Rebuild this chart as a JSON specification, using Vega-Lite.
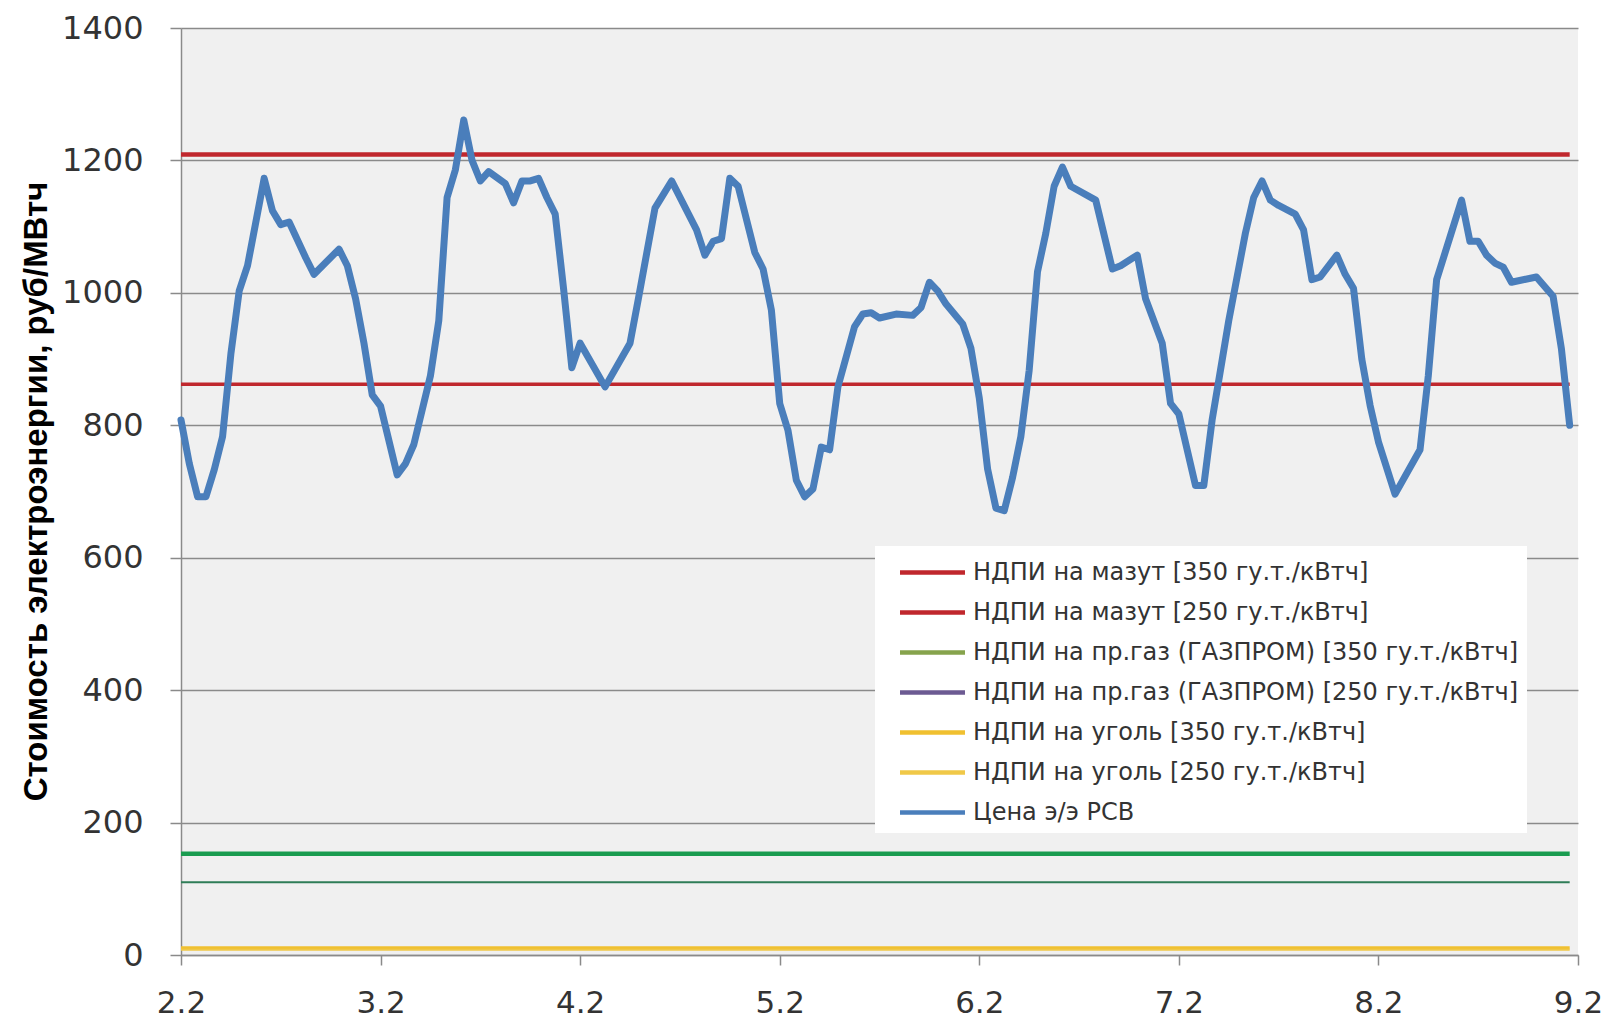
{
  "$schema": "https://vega.github.io/schema/vega-lite/v6.json",
  "width": 1397,
  "height": 927,
  "autosize": {"type": "none"},
  "padding": {"left": 181, "top": 28, "right": 26, "bottom": 65},
  "background": "#ffffff",
  "config": {
    "view": {"fill": "#f0f0f0", "stroke": null},
    "axis": {"labelFont": "DejaVu Sans", "labelColor": "#333333", "domainColor": "#8a8a8a", "tickColor": "#8a8a8a", "gridColor": "#8a8a8a"}
  },
  "datasets": {
    "levels": [
      {"series": "НДПИ на мазут [350 гу.т./кВтч]", "value": 1209},
      {"series": "НДПИ на мазут [250 гу.т./кВтч]", "value": 862},
      {"series": "НДПИ на пр.газ (ГАЗПРОМ) [350 гу.т./кВтч]", "value": 153},
      {"series": "НДПИ на пр.газ (ГАЗПРОМ) [250 гу.т./кВтч]", "value": 110},
      {"series": "НДПИ на уголь [350 гу.т./кВтч]", "value": 11},
      {"series": "НДПИ на уголь [250 гу.т./кВтч]", "value": 8}
    ],
    "price": [
      {"hour": 0, "price": 808, "series": "Цена э/э РСВ"},
      {"hour": 1, "price": 742, "series": "Цена э/э РСВ"},
      {"hour": 2, "price": 692, "series": "Цена э/э РСВ"},
      {"hour": 3, "price": 692, "series": "Цена э/э РСВ"},
      {"hour": 4, "price": 733, "series": "Цена э/э РСВ"},
      {"hour": 5, "price": 783, "series": "Цена э/э РСВ"},
      {"hour": 6, "price": 908, "series": "Цена э/э РСВ"},
      {"hour": 7, "price": 1003, "series": "Цена э/э РСВ"},
      {"hour": 8, "price": 1041, "series": "Цена э/э РСВ"},
      {"hour": 10, "price": 1173, "series": "Цена э/э РСВ"},
      {"hour": 11, "price": 1124, "series": "Цена э/э РСВ"},
      {"hour": 12, "price": 1103, "series": "Цена э/э РСВ"},
      {"hour": 13, "price": 1107, "series": "Цена э/э РСВ"},
      {"hour": 15, "price": 1053, "series": "Цена э/э РСВ"},
      {"hour": 16, "price": 1028, "series": "Цена э/э РСВ"},
      {"hour": 19, "price": 1066, "series": "Цена э/э РСВ"},
      {"hour": 20, "price": 1041, "series": "Цена э/э РСВ"},
      {"hour": 21, "price": 991, "series": "Цена э/э РСВ"},
      {"hour": 22, "price": 924, "series": "Цена э/э РСВ"},
      {"hour": 23, "price": 846, "series": "Цена э/э РСВ"},
      {"hour": 24, "price": 829, "series": "Цена э/э РСВ"},
      {"hour": 26, "price": 725, "series": "Цена э/э РСВ"},
      {"hour": 27, "price": 742, "series": "Цена э/э РСВ"},
      {"hour": 28, "price": 771, "series": "Цена э/э РСВ"},
      {"hour": 30, "price": 875, "series": "Цена э/э РСВ"},
      {"hour": 31, "price": 958, "series": "Цена э/э РСВ"},
      {"hour": 32, "price": 1144, "series": "Цена э/э РСВ"},
      {"hour": 33, "price": 1186, "series": "Цена э/э РСВ"},
      {"hour": 34, "price": 1261, "series": "Цена э/э РСВ"},
      {"hour": 35, "price": 1200, "series": "Цена э/э РСВ"},
      {"hour": 36, "price": 1169, "series": "Цена э/э РСВ"},
      {"hour": 37, "price": 1183, "series": "Цена э/э РСВ"},
      {"hour": 39, "price": 1165, "series": "Цена э/э РСВ"},
      {"hour": 40, "price": 1136, "series": "Цена э/э РСВ"},
      {"hour": 41, "price": 1169, "series": "Цена э/э РСВ"},
      {"hour": 42, "price": 1169, "series": "Цена э/э РСВ"},
      {"hour": 43, "price": 1173, "series": "Цена э/э РСВ"},
      {"hour": 44, "price": 1144, "series": "Цена э/э РСВ"},
      {"hour": 45, "price": 1119, "series": "Цена э/э РСВ"},
      {"hour": 46, "price": 1007, "series": "Цена э/э РСВ"},
      {"hour": 47, "price": 887, "series": "Цена э/э РСВ"},
      {"hour": 48, "price": 924, "series": "Цена э/э РСВ"},
      {"hour": 51, "price": 858, "series": "Цена э/э РСВ"},
      {"hour": 54, "price": 924, "series": "Цена э/э РСВ"},
      {"hour": 55, "price": 991, "series": "Цена э/э РСВ"},
      {"hour": 57, "price": 1128, "series": "Цена э/э РСВ"},
      {"hour": 59, "price": 1169, "series": "Цена э/э РСВ"},
      {"hour": 62, "price": 1095, "series": "Цена э/э РСВ"},
      {"hour": 63, "price": 1057, "series": "Цена э/э РСВ"},
      {"hour": 64, "price": 1078, "series": "Цена э/э РСВ"},
      {"hour": 65, "price": 1082, "series": "Цена э/э РСВ"},
      {"hour": 66, "price": 1173, "series": "Цена э/э РСВ"},
      {"hour": 67, "price": 1161, "series": "Цена э/э РСВ"},
      {"hour": 69, "price": 1061, "series": "Цена э/э РСВ"},
      {"hour": 70, "price": 1036, "series": "Цена э/э РСВ"},
      {"hour": 71, "price": 974, "series": "Цена э/э РСВ"},
      {"hour": 72, "price": 833, "series": "Цена э/э РСВ"},
      {"hour": 73, "price": 792, "series": "Цена э/э РСВ"},
      {"hour": 74, "price": 717, "series": "Цена э/э РСВ"},
      {"hour": 75, "price": 692, "series": "Цена э/э РСВ"},
      {"hour": 76, "price": 704, "series": "Цена э/э РСВ"},
      {"hour": 77, "price": 767, "series": "Цена э/э РСВ"},
      {"hour": 78, "price": 763, "series": "Цена э/э РСВ"},
      {"hour": 79, "price": 858, "series": "Цена э/э РСВ"},
      {"hour": 81, "price": 949, "series": "Цена э/э РСВ"},
      {"hour": 82, "price": 968, "series": "Цена э/э РСВ"},
      {"hour": 83, "price": 970, "series": "Цена э/э РСВ"},
      {"hour": 84, "price": 962, "series": "Цена э/э РСВ"},
      {"hour": 86, "price": 968, "series": "Цена э/э РСВ"},
      {"hour": 88, "price": 966, "series": "Цена э/э РСВ"},
      {"hour": 89, "price": 978, "series": "Цена э/э РСВ"},
      {"hour": 90, "price": 1016, "series": "Цена э/э РСВ"},
      {"hour": 91, "price": 1003, "series": "Цена э/э РСВ"},
      {"hour": 92, "price": 983, "series": "Цена э/э РСВ"},
      {"hour": 94, "price": 953, "series": "Цена э/э РСВ"},
      {"hour": 95, "price": 916, "series": "Цена э/э РСВ"},
      {"hour": 96, "price": 841, "series": "Цена э/э РСВ"},
      {"hour": 97, "price": 734, "series": "Цена э/э РСВ"},
      {"hour": 98, "price": 675, "series": "Цена э/э РСВ"},
      {"hour": 99, "price": 671, "series": "Цена э/э РСВ"},
      {"hour": 100, "price": 721, "series": "Цена э/э РСВ"},
      {"hour": 101, "price": 783, "series": "Цена э/э РСВ"},
      {"hour": 102, "price": 883, "series": "Цена э/э РСВ"},
      {"hour": 103, "price": 1032, "series": "Цена э/э РСВ"},
      {"hour": 104, "price": 1090, "series": "Цена э/э РСВ"},
      {"hour": 105, "price": 1161, "series": "Цена э/э РСВ"},
      {"hour": 106, "price": 1190, "series": "Цена э/э РСВ"},
      {"hour": 107, "price": 1161, "series": "Цена э/э РСВ"},
      {"hour": 110, "price": 1140, "series": "Цена э/э РСВ"},
      {"hour": 112, "price": 1036, "series": "Цена э/э РСВ"},
      {"hour": 113, "price": 1041, "series": "Цена э/э РСВ"},
      {"hour": 115, "price": 1057, "series": "Цена э/э РСВ"},
      {"hour": 116, "price": 991, "series": "Цена э/э РСВ"},
      {"hour": 118, "price": 924, "series": "Цена э/э РСВ"},
      {"hour": 119, "price": 833, "series": "Цена э/э РСВ"},
      {"hour": 120, "price": 817, "series": "Цена э/э РСВ"},
      {"hour": 122, "price": 709, "series": "Цена э/э РСВ"},
      {"hour": 123, "price": 709, "series": "Цена э/э РСВ"},
      {"hour": 124, "price": 808, "series": "Цена э/э РСВ"},
      {"hour": 125, "price": 883, "series": "Цена э/э РСВ"},
      {"hour": 126, "price": 958, "series": "Цена э/э РСВ"},
      {"hour": 128, "price": 1090, "series": "Цена э/э РСВ"},
      {"hour": 129, "price": 1144, "series": "Цена э/э РСВ"},
      {"hour": 130, "price": 1169, "series": "Цена э/э РСВ"},
      {"hour": 131, "price": 1140, "series": "Цена э/э РСВ"},
      {"hour": 132, "price": 1132, "series": "Цена э/э РСВ"},
      {"hour": 134, "price": 1119, "series": "Цена э/э РСВ"},
      {"hour": 135, "price": 1095, "series": "Цена э/э РСВ"},
      {"hour": 136, "price": 1020, "series": "Цена э/э РСВ"},
      {"hour": 137, "price": 1024, "series": "Цена э/э РСВ"},
      {"hour": 139, "price": 1057, "series": "Цена э/э РСВ"},
      {"hour": 140, "price": 1028, "series": "Цена э/э РСВ"},
      {"hour": 141, "price": 1007, "series": "Цена э/э РСВ"},
      {"hour": 142, "price": 900, "series": "Цена э/э РСВ"},
      {"hour": 143, "price": 830, "series": "Цена э/э РСВ"},
      {"hour": 144, "price": 775, "series": "Цена э/э РСВ"},
      {"hour": 146, "price": 696, "series": "Цена э/э РСВ"},
      {"hour": 149, "price": 763, "series": "Цена э/э РСВ"},
      {"hour": 150, "price": 875, "series": "Цена э/э РСВ"},
      {"hour": 151, "price": 1020, "series": "Цена э/э РСВ"},
      {"hour": 154, "price": 1140, "series": "Цена э/э РСВ"},
      {"hour": 155, "price": 1078, "series": "Цена э/э РСВ"},
      {"hour": 156, "price": 1078, "series": "Цена э/э РСВ"},
      {"hour": 157, "price": 1057, "series": "Цена э/э РСВ"},
      {"hour": 158, "price": 1045, "series": "Цена э/э РСВ"},
      {"hour": 159, "price": 1039, "series": "Цена э/э РСВ"},
      {"hour": 160, "price": 1016, "series": "Цена э/э РСВ"},
      {"hour": 163, "price": 1024, "series": "Цена э/э РСВ"},
      {"hour": 165, "price": 995, "series": "Цена э/э РСВ"},
      {"hour": 166, "price": 916, "series": "Цена э/э РСВ"},
      {"hour": 167, "price": 800, "series": "Цена э/э РСВ"}
    ]
  },
  "layer": [
    {
      "data": {"name": "levels"},
      "transform": [{"filter": "indexof(datum.series, 'ГАЗПРОМ') < 0"}],
      "mark": {"type": "rule"},
      "encoding": {
        "y": {
          "field": "value",
          "type": "quantitative",
          "scale": {"domain": [0, 1400], "nice": false},
          "axis": {
            "title": "Стоимость электроэнергии, руб/МВтч",
            "titleFont": "Liberation Sans",
            "titleFontWeight": "bold",
            "titleFontSize": 33,
            "titleColor": "#000000",
            "titleAngle": -90,
            "titleX": -145,
            "titleY": 463,
            "titleAlign": "center",
            "titleBaseline": "middle",
            "values": [0, 200, 400, 600, 800, 1000, 1200, 1400],
            "format": "d",
            "labelFontSize": 32,
            "labelPadding": 27,
            "tickSize": 11,
            "tickWidth": 1.5,
            "domainWidth": 1.5,
            "gridWidth": 1.5,
            "grid": true
          }
        },
        "x": {
          "datum": 0,
          "type": "quantitative",
          "scale": {"domain": [0, 168], "nice": false},
          "axis": {
            "title": null,
            "orient": "bottom",
            "values": [0, 24, 48, 72, 96, 120, 144, 168],
            "labelExpr": "format(datum.value / 24 + 2, 'd') + '.2'",
            "labelFontSize": 31,
            "labelPadding": 23,
            "labelFlush": false,
            "labelOverlap": false,
            "tickSize": 10,
            "tickWidth": 1.5,
            "domainWidth": 1.5,
            "grid": false
          }
        },
        "x2": {"datum": 167},
        "color": {
          "field": "series",
          "type": "nominal",
          "scale": {
            "domain": [
              "НДПИ на мазут [350 гу.т./кВтч]",
              "НДПИ на мазут [250 гу.т./кВтч]",
              "НДПИ на пр.газ (ГАЗПРОМ) [350 гу.т./кВтч]",
              "НДПИ на пр.газ (ГАЗПРОМ) [250 гу.т./кВтч]",
              "НДПИ на уголь [350 гу.т./кВтч]",
              "НДПИ на уголь [250 гу.т./кВтч]",
              "Цена э/э РСВ"
            ],
            "range": ["#c0272d", "#c0272d", "#86a34c", "#6c5a92", "#f0c030", "#f0c848", "#4a7ebb"]
          },
          "legend": {
            "title": null,
            "orient": "none",
            "legendX": 694,
            "legendY": 518,
            "padding": 8,
            "symbolOffset": 31,
            "fillColor": "#ffffff",
            "symbolType": "M-2,0H2",
            "symbolSize": 1056,
            "symbolStrokeWidth": 4.5,
            "labelFont": "DejaVu Sans",
            "labelFontSize": 24,
            "labelColor": "#333333",
            "labelOffset": 22,
            "labelLimit": 700,
            "rowPadding": 9
          }
        },
        "strokeWidth": {
          "field": "series",
          "type": "nominal",
          "scale": {
            "domain": [
              "НДПИ на мазут [350 гу.т./кВтч]",
              "НДПИ на мазут [250 гу.т./кВтч]",
              "НДПИ на уголь [350 гу.т./кВтч]",
              "НДПИ на уголь [250 гу.т./кВтч]"
            ],
            "range": [4.5, 2, 5, 2]
          },
          "legend": null
        }
      }
    },
    {
      "data": {"name": "levels"},
      "transform": [{"filter": "datum.series == 'НДПИ на пр.газ (ГАЗПРОМ) [350 гу.т./кВтч]'"}],
      "mark": {"type": "rule", "color": "#1a9c50", "strokeWidth": 4.5},
      "encoding": {
        "y": {"field": "value", "type": "quantitative"},
        "x": {"datum": 0, "type": "quantitative"},
        "x2": {"datum": 167}
      }
    },
    {
      "data": {"name": "levels"},
      "transform": [{"filter": "datum.series == 'НДПИ на пр.газ (ГАЗПРОМ) [250 гу.т./кВтч]'"}],
      "mark": {"type": "rule", "color": "#2f7d57", "strokeWidth": 2},
      "encoding": {
        "y": {"field": "value", "type": "quantitative"},
        "x": {"datum": 0, "type": "quantitative"},
        "x2": {"datum": 167}
      }
    },
    {
      "data": {"name": "price"},
      "mark": {"type": "line", "strokeWidth": 7, "strokeJoin": "round", "strokeCap": "round"},
      "encoding": {
        "x": {"field": "hour", "type": "quantitative"},
        "y": {"field": "price", "type": "quantitative"},
        "color": {"field": "series", "type": "nominal"}
      }
    }
  ]
}
